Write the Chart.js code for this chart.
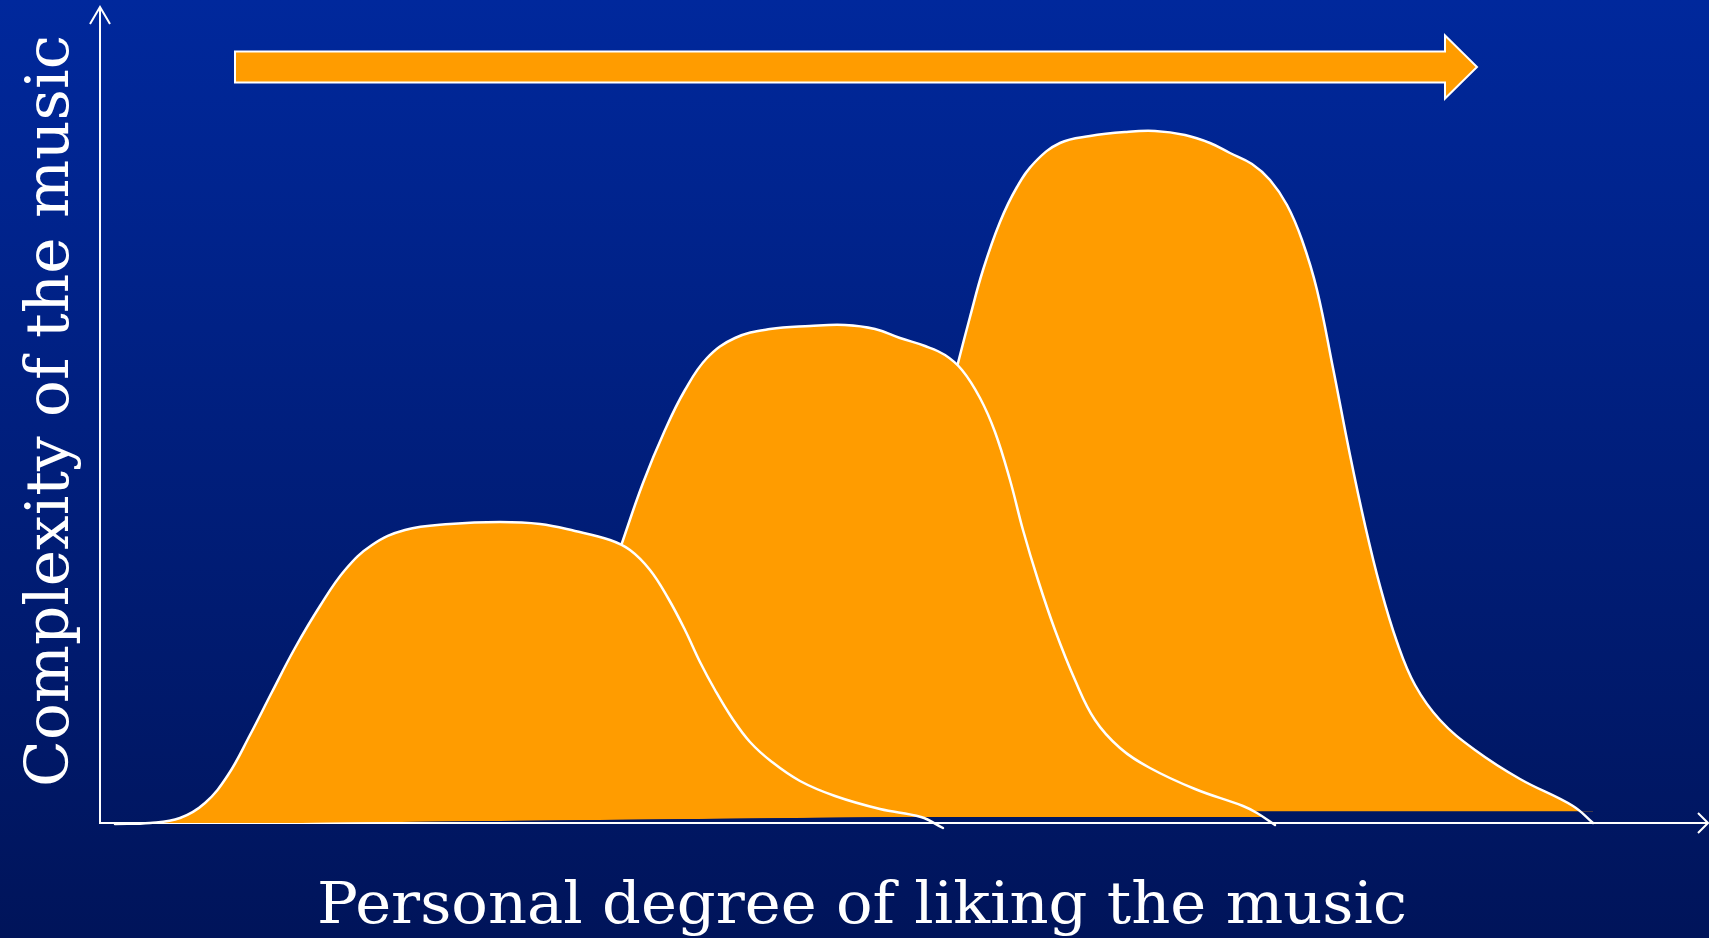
<!DOCTYPE html>
<html>
<head>
<meta charset="utf-8">
<title>Complexity vs. liking</title>
<script src="https://cdn.jsdelivr.net/npm/chart.js@4/dist/chart.umd.min.js"></script>
<style>
  html, body { margin: 0; padding: 0; background: #001a70; }
  #wrap { width: 1709px; height: 938px; }
  canvas { display: block; }
</style>
</head>
<body>
<div id="wrap"><canvas id="c" width="1709" height="938"></canvas></div>
<script>
// Axis titles
const xTitle = 'Personal degree of liking the music';
const yTitle = 'Complexity of the music';

// Three listening profiles: simple, medium and complex music.
// x = personal degree of liking, y = complexity (same units on both axes)
const simpleX = [15, 50, 80, 105, 128, 150, 172, 195, 220, 245, 272, 305, 350, 400, 440, 475, 510, 530, 550, 568, 585, 600, 615, 632, 650, 672, 700, 735, 780, 821, 843];
const simpleY = [-1, 0, 5, 20, 48, 88, 131, 175, 217, 253, 278, 293, 299, 301, 299, 292, 283, 273, 253, 225, 193, 161, 133, 105, 81, 61, 42, 27, 14, 6, -5];

const mediumX = [425, 475, 522, 543, 565, 585, 607, 635, 670, 710, 745, 775, 800, 825, 845, 862, 880, 895, 910, 923, 938, 955, 975, 995, 1020, 1050, 1095, 1143, 1157, 1175];
const mediumY = [10, 143, 280, 340, 393, 433, 465, 485, 494, 497, 498, 494, 485, 477, 468, 453, 425, 391, 343, 293, 243, 193, 143, 103, 75, 55, 34, 17, 10, -2];

const complexX = [740, 800, 858, 870, 883, 900, 917, 935, 960, 990, 1025, 1055, 1085, 1110, 1130, 1152, 1170, 1187, 1202, 1217, 1233, 1250, 1265, 1280, 1297, 1315, 1340, 1375, 1420, 1473, 1493];
const complexY = [15, 233, 460, 506, 553, 601, 636, 661, 680, 687, 691, 692, 688, 680, 670, 659, 643, 618, 583, 533, 455, 368, 298, 237, 181, 138, 103, 73, 44, 17, 0];

// Floor of each filled shape, given at the two ends of the x range
const simpleFloor = [-2, 14];
const mediumFloor = [6, 6];
const complexFloor = [11.5, 11.5];

// Axis extents
const xMax = 1608;
const yMax = 816;

const ORANGE = '#FF9C00';
const WHITE = '#FFFFFF';

const toPoints = (xs, ys) => xs.map((x, i) => ({ x, y: ys[i] }));
const floorPoints = f => [{ x: 0, y: f[0] }, { x: xMax, y: f[1] }];

function profile(label, xs, ys, floorIndex) {
  return {
    label,
    data: toPoints(xs, ys),
    borderColor: WHITE,
    borderWidth: 2.5,
    borderCapStyle: 'round',
    borderJoinStyle: 'round',
    pointRadius: 0,
    tension: 0.4,
    clip: false,
    fill: { target: floorIndex, above: ORANGE, below: 'rgba(0,0,0,0)' }
  };
}

function floorLine(label, f) {
  return {
    label,
    data: floorPoints(f),
    borderColor: 'rgba(0,0,0,0)',
    borderWidth: 0,
    pointRadius: 0,
    fill: false,
    clip: false
  };
}

// Slide background: vertical blue gradient
const backdrop = {
  id: 'backdrop',
  beforeDraw(chart) {
    const { ctx, width, height } = chart;
    const g = ctx.createLinearGradient(0, 0, 0, height);
    g.addColorStop(0, '#00289C');
    g.addColorStop(1, '#00145A');
    ctx.save();
    ctx.fillStyle = g;
    ctx.fillRect(0, 0, width, height);
    ctx.restore();
  }
};

// Axis lines with open arrow heads, plus the orange "direction" arrow
const axesAndArrow = {
  id: 'axesAndArrow',
  beforeDatasetsDraw(chart, args, opts) {
    const { ctx } = chart;
    const xs = chart.scales.x, ys = chart.scales.y;
    const x0 = xs.getPixelForValue(0), x1 = xs.getPixelForValue(xMax);
    const y0 = ys.getPixelForValue(0), y1 = ys.getPixelForValue(yMax);

    ctx.save();
    ctx.strokeStyle = WHITE;
    ctx.lineWidth = 2;
    ctx.lineCap = 'butt';
    ctx.beginPath();
    ctx.moveTo(x0, y1); ctx.lineTo(x0, y0); ctx.lineTo(x1, y0);
    ctx.stroke();
    // arrow heads
    ctx.beginPath();
    ctx.moveTo(x0 - 10, y1 + 17); ctx.lineTo(x0, y1); ctx.lineTo(x0 + 10, y1 + 17);
    ctx.moveTo(x1 - 10, y0 - 10); ctx.lineTo(x1, y0); ctx.lineTo(x1 - 10, y0 + 10);
    ctx.stroke();

    // orange arrow along the top
    const a = opts.arrow;
    const ax0 = xs.getPixelForValue(a.from), ax1 = xs.getPixelForValue(a.to);
    const ay = ys.getPixelForValue(a.level);
    const hb = ax1 - a.headLength;
    ctx.beginPath();
    ctx.moveTo(ax0, ay - a.bodyHalf);
    ctx.lineTo(hb, ay - a.bodyHalf);
    ctx.lineTo(hb, ay - a.headHalf);
    ctx.lineTo(ax1, ay);
    ctx.lineTo(hb, ay + a.headHalf);
    ctx.lineTo(hb, ay + a.bodyHalf);
    ctx.lineTo(ax0, ay + a.bodyHalf);
    ctx.closePath();
    ctx.fillStyle = ORANGE;
    ctx.fill();
    ctx.lineJoin = 'miter';
    ctx.lineWidth = 2;
    ctx.strokeStyle = WHITE;
    ctx.stroke();
    ctx.restore();
  }
};

// Axis titles in a condensed serif face, fitted to their run length
const axisTitles = {
  id: 'axisTitles',
  afterDraw(chart, args, opts) {
    const { ctx } = chart;
    const draw = (t, rotate) => {
      ctx.save();
      ctx.font = t.size + 'px "DejaVu Serif", serif';
      ctx.fillStyle = WHITE;
      ctx.textAlign = 'left';
      ctx.textBaseline = 'alphabetic';
      ctx.translate(t.x, t.y);
      if (rotate) ctx.rotate(-Math.PI / 2);
      const w = ctx.measureText(t.text).width;
      ctx.scale(t.length / w, 1);
      ctx.fillText(t.text, 0, 0);
      ctx.restore();
    };
    draw(opts.x, false);
    draw(opts.y, true);
  }
};

new Chart(document.getElementById('c'), {
  type: 'line',
  data: {
    datasets: [
      profile('Simple', simpleX, simpleY, 3),
      profile('Medium', mediumX, mediumY, 4),
      profile('Complex', complexX, complexY, 5),
      floorLine('Simple floor', simpleFloor),
      floorLine('Medium floor', mediumFloor),
      floorLine('Complex floor', complexFloor)
    ]
  },
  options: {
    responsive: false,
    devicePixelRatio: 1,
    animation: false,
    layout: { padding: { left: 100, right: 1, top: 7, bottom: 115 } },
    scales: {
      x: { type: 'linear', min: 0, max: xMax, display: false },
      y: { type: 'linear', min: 0, max: yMax, display: false }
    },
    plugins: {
      legend: { display: false },
      tooltip: { enabled: false },
      axesAndArrow: {
        arrow: { from: 135, to: 1377, level: 756, bodyHalf: 15.5, headHalf: 31.5, headLength: 32 }
      },
      axisTitles: {
        x: { text: xTitle, x: 317, y: 923, length: 1090, size: 57 },
        y: { text: yTitle, x: 68, y: 787, length: 752, size: 60 }
      }
    }
  },
  plugins: [backdrop, axesAndArrow, axisTitles]
});
</script>
</body>
</html>
